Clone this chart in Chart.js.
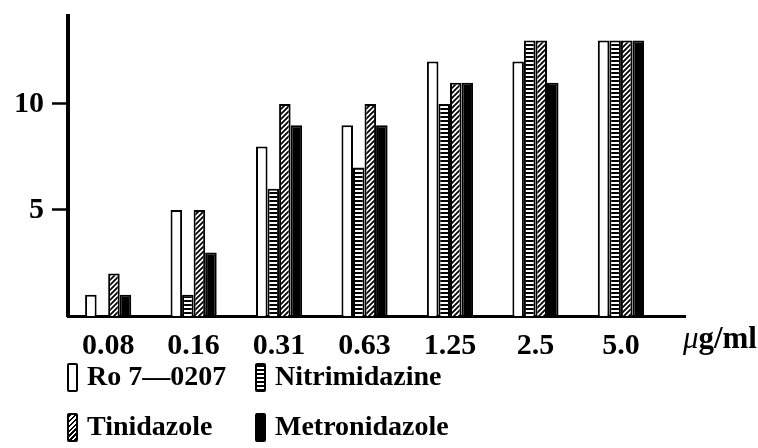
<!DOCTYPE html>
<html><head><meta charset="utf-8">
<script src="https://cdn.jsdelivr.net/npm/chart.js@4"></script>
<style>
html,body{margin:0;padding:0;background:#fff;}
#wrap{position:relative;width:758px;height:448px;overflow:hidden;}
#c{position:absolute;left:0;top:0;}
.lg{position:absolute;left:67px;top:359px;display:grid;grid-template-columns:188px auto;grid-auto-rows:50px;font:bold 28px 'Liberation Serif',serif;color:#000;line-height:34px;}
.it{display:flex;align-items:flex-start;white-space:nowrap;}
.sw{width:11px;height:29px;box-sizing:border-box;margin-right:9px;margin-top:4px;border:2px solid #000;border-radius:2px;}
.unit{position:absolute;right:1px;top:320px;font:bold 31px 'Liberation Serif',serif;color:#000;white-space:nowrap;}
.unit i{font-weight:normal;}
</style></head>
<body>
<div id="wrap">
<canvas id="c" width="758" height="448"></canvas>
<div class="lg" id="lg"></div>
<div class="unit" id="unit"></div>
</div>
<script>
// ---- data ----
const categories = ['0.08','0.16','0.31','0.63','1.25','2.5','5.0'];
const seriesNames = ['Ro 7\u20140207','Nitrimidazine','Tinidazole','Metronidazole'];
const ro7     = [1, 5, 8, 9, 12, 12, 13];
const nitrim  = [0, 1, 6, 7, 10, 13, 13];
const tinid   = [2, 5, 10, 10, 11, 13, 13];
const metron  = [1, 3, 9, 9, 11, 11, 13];
const yTicks  = [5, 10];
const unitText = '\u03bc';
const unitRest = 'g/ml';

// ---- patterns ----
const ctx = document.getElementById('c').getContext('2d');
const stripe = (function(){
  const cv = document.createElement('canvas'); cv.width = 4; cv.height = 4;
  const g = cv.getContext('2d'); g.fillStyle='#fff'; g.fillRect(0,0,4,4); g.fillStyle='#000'; g.fillRect(0,0,4,2);
  return ctx.createPattern(cv,'repeat');
})();
const hatch = (function(){
  const cv = document.createElement('canvas'); cv.width = 5; cv.height = 5;
  const g = cv.getContext('2d'); g.fillStyle='#fff'; g.fillRect(0,0,5,5);
  g.strokeStyle='#000'; g.lineWidth=1.8; g.beginPath();
  g.moveTo(-1,6); g.lineTo(6,-1); g.moveTo(-1,1); g.lineTo(1,-1); g.moveTo(4,6); g.lineTo(6,4); g.stroke();
  return ctx.createPattern(cv,'repeat');
})();
const fills = ['#ffffff', stripe, hatch, '#000000'];
const cssFills = ['#fff',
  'repeating-linear-gradient(to bottom,#000 0 2px,#fff 2px 4px)',
  'repeating-linear-gradient(-45deg,#000 0 1.5px,#fff 1.5px 3.5px)',
  '#000'];
const seriesData = [ro7, nitrim, tinid, metron];

Chart.defaults.font.family = "'Liberation Serif', serif";
Chart.defaults.color = '#000';

new Chart(ctx, {
  type: 'bar',
  data: {
    datasets: seriesNames.map((n, k) => ({
      label: n,
      data: seriesData[k].map((v, i) => ({x: i, y: v})),
      backgroundColor: fills[k],
      borderColor: '#000',
      borderWidth: 2,
      categoryPercentage: 0.54,
      barPercentage: 1.0
    }))
  },
  options: {
    responsive: false,
    animation: false,
    events: [],
    layout: { padding: { top: 16, right: 73, bottom: 92, left: 0 } },
    plugins: { legend: { display: false }, tooltip: { enabled: false } },
    scales: {
      x: {
        type: 'linear',
        offset: false,
        min: -0.47, max: 6.75,
        grid: { display: false, offset: false },
        border: { display: true, color: '#000', width: 3 },
        afterBuildTicks: s => { s.ticks = categories.map((_, i) => ({value: i})); },
        afterFit: s => { s.height = 40; s.paddingLeft = 0; s.paddingRight = 0; },
        ticks: {
          autoSkip: false, maxRotation: 0, padding: 4,
          font: { size: 30, weight: 'bold' },
          callback: v => categories[v]
        }
      },
      y: {
        min: 0, max: 14.15,
        afterBuildTicks: s => { s.ticks = yTicks.map(v => ({value: v})); },
        afterFit: s => { s.width = 68; s.paddingTop = 0; s.paddingBottom = 0; },
        grid: { display: true, drawOnChartArea: false, drawTicks: true, tickLength: 16, tickWidth: 2.5, tickColor: '#000' },
        border: { display: true, color: '#000', width: 4 },
        ticks: { padding: 8, font: { size: 30, weight: 'bold' } }
      }
    }
  }
});

// legend
const lg = document.getElementById('lg');
seriesNames.forEach((n, k) => {
  const it = document.createElement('div'); it.className = 'it';
  const sw = document.createElement('span'); sw.className = 'sw'; sw.style.background = cssFills[k];
  const tx = document.createElement('span'); tx.textContent = n;
  it.appendChild(sw); it.appendChild(tx); lg.appendChild(it);
});
const u = document.getElementById('unit');
const ui = document.createElement('i'); ui.textContent = unitText;
u.appendChild(ui); u.appendChild(document.createTextNode(unitRest));
</script>
</body></html>
